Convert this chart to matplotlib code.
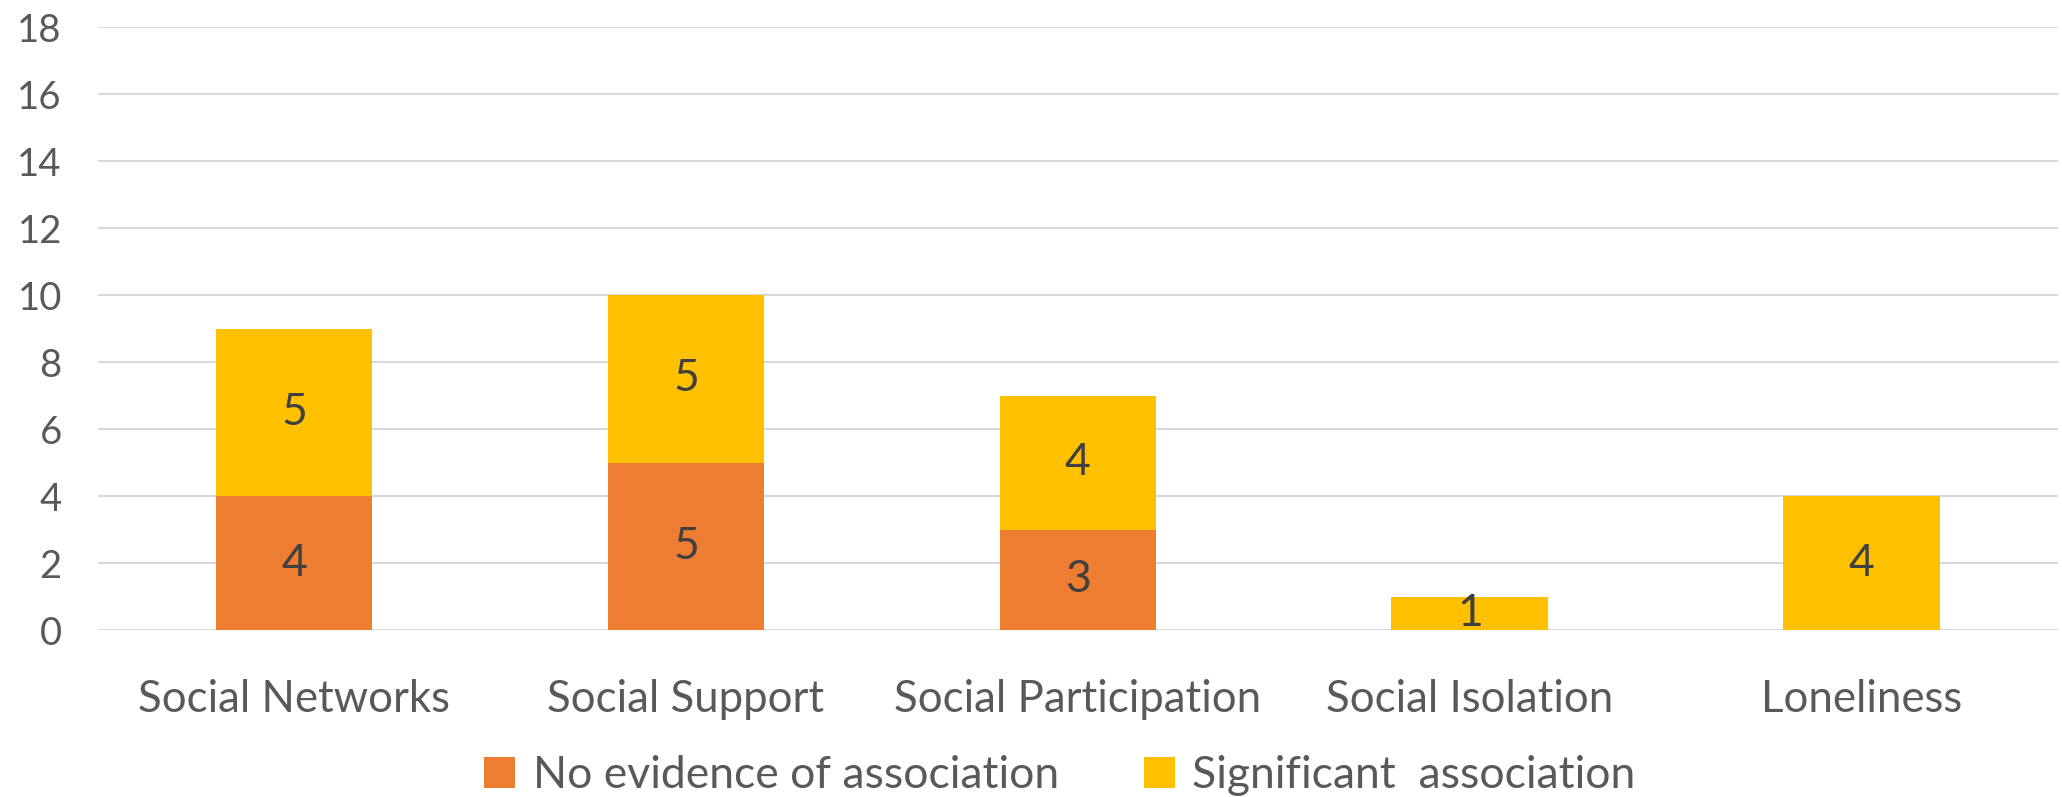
import matplotlib.pyplot as plt
import numpy as np

# Daten
categories = ['Social Networks', 'Social Support', 'Social Participation',
              'Social Isolation', 'Loneliness']
no_evidence = [4, 5, 3, 0, 0]
significant = [5, 5, 4, 1, 4]
series_names = ['No evidence of association', 'Significant  association']

plt.rcParams['font.family'] = ['Lato', 'DejaVu Sans']

fig = plt.figure(figsize=(20.62, 7.97), dpi=100)
ax = fig.add_axes([0.0475, 0.2095, 0.9505, 0.7565])

x = np.arange(len(categories))
w = 0.4
c1, c2 = '#ED7D31', '#FFC000'
b1 = ax.bar(x, no_evidence, w, color=c1, label=series_names[0], zorder=2)
b2 = ax.bar(x, significant, w, bottom=no_evidence, color=c2,
            label=series_names[1], zorder=2)

# Beschriftung der Segmente
for i in range(len(categories)):
    if no_evidence[i] > 0:
        ax.text(x[i], no_evidence[i] / 2, str(no_evidence[i]), ha='center',
                va='center', fontsize=32, color='#404040', zorder=3)
    if significant[i] > 0:
        ax.text(x[i], no_evidence[i] + significant[i] / 2, str(significant[i]),
                ha='center', va='center', fontsize=32, color='#404040', zorder=3)

ax.set_xlim(-0.5, len(categories) - 0.5)
ax.set_ylim(0, 18)
ax.set_yticks(np.arange(0, 19, 2))
ax.yaxis.grid(True, color='#D9D9D9', linewidth=1.5, zorder=0)
ax.set_axisbelow(True)
for s in ax.spines.values():
    s.set_visible(False)
ax.tick_params(axis='y', length=0, pad=26, labelsize=27.5, labelcolor='#595959')
ax.tick_params(axis='x', length=0, pad=35, labelsize=31.5, labelcolor='#595959')
ax.set_xticks(x)
ax.set_xticklabels(categories)

fig.legend(handles=[b1, b2], loc='center', bbox_to_anchor=(0.514, 0.027),
           ncol=2, frameon=False, fontsize=32, labelcolor='#595959',
           handlelength=0.7, handleheight=0.7, handletextpad=0.4,
           columnspacing=1.9)

fig.savefig('out.png', dpi=100)
